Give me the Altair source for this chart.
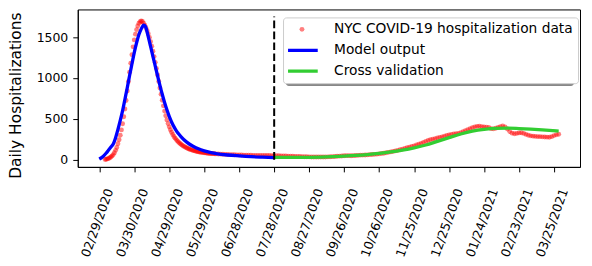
import altair as alt
import pandas as pd

DATA_LABEL = "NYC COVID-19 hospitalization data"
MODEL_LABEL = "Model output"
CV_LABEL = "Cross validation"
series_names = [DATA_LABEL, MODEL_LABEL, CV_LABEL]
series_colors = ["red", "blue", "limegreen"]

origin_date = "2020-02-29"
tick_labels = ["02/29/2020", "03/30/2020", "04/29/2020", "05/29/2020", "06/28/2020",
               "07/28/2020", "08/27/2020", "09/26/2020", "10/26/2020", "11/25/2020",
               "12/25/2020", "01/24/2021", "02/23/2021", "03/25/2021"]
y_ticks = [0, 500, 1000, 1500]

# observed data: daily from 2020-03-05, then every second day from 2020-06-10
red_start_daily = "2020-03-05"
red_daily = [3, 6, 10, 16, 24, 34, 47, 63, 85, 115, 150, 195, 245, 300, 365, 440, 525, 620,
             725, 840, 955, 1070, 1180, 1285, 1380, 1465, 1535, 1590, 1635, 1668, 1688, 1697,
             1690, 1670, 1644, 1614, 1580, 1540, 1494, 1443, 1387, 1326, 1261, 1191, 1116,
             1037, 957, 878, 801, 728, 659, 595, 538, 487, 442, 402, 367, 336, 309, 285, 264,
             246, 230, 215, 202, 190, 179, 169, 160, 152, 145, 138, 132, 126, 121, 116, 112,
             108, 104, 101, 98, 95, 92, 90, 88, 86, 84, 82, 80, 79, 77, 76, 75, 74, 72, 71]
red_start_2day = "2020-06-10"
red_every2 = [70, 68, 67, 66, 64, 63, 62, 61, 60, 59,
              58, 57, 56, 56, 55, 54, 54, 53, 53, 52,
              52, 51, 51, 50, 50, 49, 48, 47, 46, 45,
              44, 43, 42, 41, 40, 39, 38, 37, 36, 35,
              34, 34, 33, 33, 33, 33, 34, 35, 36, 38,
              40, 42, 44, 46, 48, 50, 50, 49, 50, 52,
              54, 56, 57, 58, 60, 62, 64, 66, 68, 72,
              76, 80, 85, 90, 96, 102, 108, 115, 122, 130,
              138, 146, 154, 162, 170, 180, 190, 200, 212, 224,
              235, 245, 252, 258, 265, 272, 280, 288, 296, 303,
              310, 315, 318, 322, 330, 342, 355, 368, 380, 392,
              402, 408, 410, 405, 400, 398, 395, 380, 378, 385,
              395, 405, 412, 400, 375, 345, 325, 318, 322, 328,
              330, 322, 310, 300, 292, 288, 285, 283, 282, 280,
              278, 276, 275, 282, 295, 305, 312]

model_days = [0, 2, 4, 6, 8, 10, 12, 14, 16, 18, 20, 22, 24, 26, 28, 30, 32, 34, 36,
              37, 38, 39, 40, 42, 44, 46, 48, 50, 52, 54, 56, 58, 60, 62, 64, 66, 68, 70,
              75, 80, 85, 90, 95, 100, 110, 120, 130, 140, 150]
model_vals = [8, 25, 50, 82, 118, 155, 192, 270, 370, 480, 600, 740, 880, 1030, 1170, 1310,
              1430, 1530, 1600, 1628, 1645, 1642, 1615, 1505, 1385, 1265, 1145, 1025, 910,
              800, 700, 610, 530, 462, 405, 357, 317, 283, 215, 168, 133, 108, 89, 76, 58,
              47, 38, 32, 27]

cv_days = [150, 160, 170, 180, 190, 200, 210, 220, 230, 240, 250, 260, 270, 280, 290, 300,
           310, 320, 330, 340, 350, 360, 370, 380, 394]
cv_vals = [30, 28, 28, 30, 33, 38, 44, 52, 63, 77, 95, 118, 146, 180, 225, 270, 315, 350,
           372, 384, 386, 381, 374, 365, 350]

split_date = "2020-07-28"
split_top = 1750

origin = pd.Timestamp(origin_date)
red_df = pd.DataFrame({
    "date": list(pd.date_range(red_start_daily, periods=len(red_daily), freq="D"))
    + list(pd.date_range(red_start_2day, periods=len(red_every2), freq="2D")),
    "value": red_daily + red_every2,
})
red_df["series"] = DATA_LABEL
model_df = pd.DataFrame({"date": origin + pd.to_timedelta(model_days, unit="D"),
                         "value": model_vals, "series": MODEL_LABEL})
cv_df = pd.DataFrame({"date": origin + pd.to_timedelta(cv_days, unit="D"),
                      "value": cv_vals, "series": CV_LABEL})
split_df = pd.DataFrame({"date": [pd.Timestamp(split_date)], "y0": [0], "y1": [split_top]})


def to_dt(lbl):
    m, d, y = (int(p) for p in lbl.split("/"))
    return alt.DateTime(year=y, month=m, date=d)


FONT = "DejaVu Sans"

x_enc = alt.X(
    "date:T",
    title=None,
    scale=alt.Scale(domain=[alt.DateTime(year=2020, month=2, date=10, hours=13),
                            alt.DateTime(year=2021, month=4, date=16, hours=7)]),
    axis=alt.Axis(values=[to_dt(t) for t in tick_labels], format="%m/%d/%Y",
                  labelAngle=290, labelAlign="right", labelBaseline="middle",
                  labelOffset=10, labelPadding=17, labelOverlap=False, labelFlush=False,
                  labelBound=False),
)


def y_enc(field):
    return alt.Y(
        field,
        title="Daily Hospitalizations",
        scale=alt.Scale(domain=[-87.5, 1837.5], nice=False, zero=False),
        axis=alt.Axis(values=y_ticks, format="d", labelPadding=5, titleX=-62, titleY=86,
                      titleAngle=270, titleAlign="center", titleBaseline="middle",
                      titleFontSize=15.5),
    )


is_data = f"datum.value === '{DATA_LABEL}'"
legend = alt.Legend(
    title=None, orient="none", legendX=206, legendY=8,
    padding=5, rowPadding=7, clipHeight=14, labelOffset=25.3, symbolOffset=7.1,
    labelFont=FONT, labelFontSize=13.8, labelColor="black", labelLimit=400,
    fillColor="white", strokeColor="#cccccc", cornerRadius=3,
    symbolType={"expr": f"{is_data} ? 'circle' : 'stroke'"},
    symbolSize={"expr": f"{is_data} ? 24 : 1000"},
    symbolStrokeWidth={"expr": f"{is_data} ? 0 : 3.3"},
    symbolOpacity={"expr": f"{is_data} ? 0.5 : 1"},
    symbolFillColor={"expr": f"{is_data} ? 'red' : 'transparent'"},
    symbolStrokeColor={"expr": f"datum.value === '{MODEL_LABEL}' ? 'blue' : 'limegreen'"},
)
color_enc = alt.Color("series:N",
                      scale=alt.Scale(domain=series_names, range=series_colors),
                      legend=legend)

points = alt.Chart(red_df).mark_circle(size=24, opacity=0.5).encode(
    x=x_enc, y=y_enc("value:Q"), color=color_enc)
model_line = alt.Chart(model_df).mark_line(strokeWidth=3.3, interpolate="monotone").encode(
    x=x_enc, y=y_enc("value:Q"), color=color_enc)
cv_line = alt.Chart(cv_df).mark_line(strokeWidth=3.3, interpolate="monotone").encode(
    x=x_enc, y=y_enc("value:Q"), color=color_enc)
split_rule = alt.Chart(split_df).mark_rule(color="black", strokeWidth=2,
                                           strokeDash=[7.7, 3.3]).encode(
    x=x_enc, y=y_enc("y0:Q"), y2="y1:Q")
legend_shadow = alt.Chart().mark_rect(color="#888888", cornerRadius=3).encode(
    x=alt.value(208.8), x2=alt.value(497.9), y=alt.value(10.8), y2=alt.value(76.8))

chart = alt.layer(points, model_line, cv_line, split_rule, legend_shadow).properties(
    width=504, height=158,
    autosize=alt.AutoSizeParams(type="none"),
    padding={"left": 70, "top": 1, "right": 4, "bottom": 97},
).configure(font=FONT).configure_view(stroke="black", strokeWidth=1).configure_axis(
    grid=False, domainColor="black", tickColor="black", labelColor="black",
    titleColor="black", labelFont=FONT, titleFont=FONT, titleFontWeight="normal",
    labelFontSize=12.5, tickSize=5, domainWidth=1, tickWidth=1,
)

chart.save("out.html", embed_options={"renderer": "svg", "actions": False})
